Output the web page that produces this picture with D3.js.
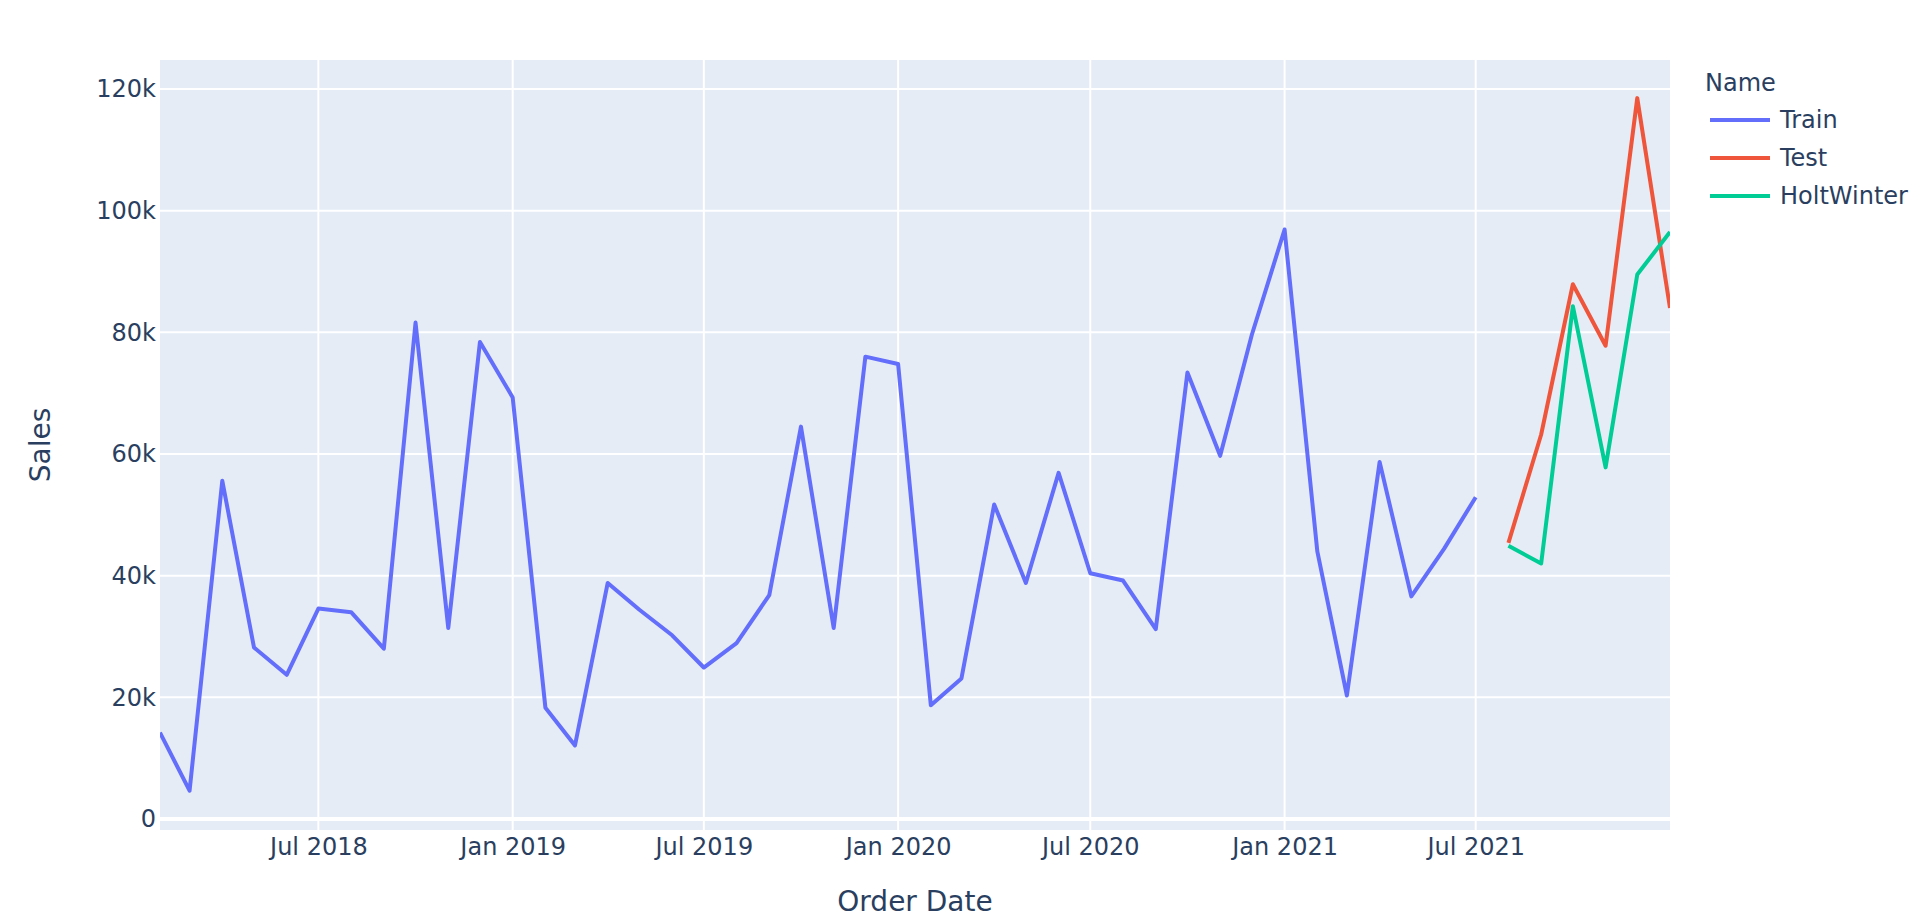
<!DOCTYPE html>
<html>
<head>
<meta charset="utf-8">
<script src="https://cdn.jsdelivr.net/npm/d3@7"></script>
<style>
  body { margin: 0; background: #fff; }
  text { font-family: "DejaVu Sans", Verdana, sans-serif; fill: #2a3f5f; }
</style>
</head>
<body>
<div id="chart"></div>
<script>
// monthly sales
const trainStart = [2018, 1]; // Feb 2018 (month index 1)
const trainSales = [14200, 4650, 55600, 28200, 23700, 34600, 34000, 28000, 81600, 31400, 78400, 69300,
  18300, 12100, 38800, 34400, 30200, 24900, 28900, 36800, 64500, 31400, 76000, 74800,
  18700, 23100, 51700, 38800, 56900, 40400, 39200, 31200, 73400, 59700, 79600, 96900,
  44000, 20300, 58700, 36600, 44400, 52900];
const testStart = [2021, 7]; // Aug 2021
const testSales = [45400, 63200, 87900, 77800, 118500, 84000];
const holtSales = [44900, 42000, 84300, 57800, 89500, 96500];

const seriesNames = ['Train', 'Test', 'HoltWinter'];
const seriesColors = ['#636efa', '#EF553B', '#00cc96'];
const yTicks = [0, 20000, 40000, 60000, 80000, 100000, 120000];

function monthly(start, vals) {
  return vals.map((v, i) => ({ date: new Date(Date.UTC(start[0], start[1] + i, 1)), value: v }));
}
const series = [
  monthly(trainStart, trainSales),
  monthly(testStart, testSales),
  monthly(testStart, holtSales)
];

const W = 1920, H = 924;
const pLeft = 160, pRight = 1670, pTop = 60, pBottom = 830;
const font = '"DejaVu Sans", Verdana, sans-serif';

const svg = d3.select('#chart').append('svg').attr('width', W).attr('height', H);

const x = d3.scaleUtc()
  .domain([new Date(Date.UTC(2018, 1, 1)), new Date(Date.UTC(2022, 0, 1))])
  .range([pLeft, pRight]);
const y = d3.scaleLinear().domain([-1808, 124767]).range([pBottom, pTop]);

svg.append('rect')
  .attr('x', pLeft).attr('y', pTop)
  .attr('width', pRight - pLeft).attr('height', pBottom - pTop)
  .attr('fill', '#E5ECF6');

svg.append('clipPath').attr('id', 'clip')
  .append('rect').attr('x', pLeft).attr('y', pTop).attr('width', pRight - pLeft).attr('height', pBottom - pTop);

const xTicks = d3.utcMonth.every(6).range(new Date(Date.UTC(2018, 6, 1)), new Date(Date.UTC(2022, 0, 1)));

// grid
svg.append('g').selectAll('line').data(xTicks).join('line')
  .attr('x1', d => x(d)).attr('x2', d => x(d))
  .attr('y1', pTop).attr('y2', pBottom)
  .attr('stroke', '#fff').attr('stroke-width', 2);
svg.append('g').selectAll('line').data(yTicks).join('line')
  .attr('x1', pLeft).attr('x2', pRight)
  .attr('y1', d => y(d)).attr('y2', d => y(d))
  .attr('stroke', '#fff').attr('stroke-width', d => d === 0 ? 4 : 2);

// axes
const xAxis = svg.append('g')
  .attr('transform', `translate(0,${pBottom})`)
  .call(d3.axisBottom(x).tickValues(xTicks).tickFormat(d3.utcFormat('%b %Y')).tickSize(0).tickPadding(8));
const yAxis = svg.append('g')
  .attr('transform', `translate(${pLeft},0)`)
  .call(d3.axisLeft(y).tickValues(yTicks).tickFormat(d => d === 0 ? '0' : (d / 1000) + 'k').tickSize(0).tickPadding(4));
[xAxis, yAxis].forEach(a => {
  a.select('.domain').remove();
  a.selectAll('text').style('font-size', '24px').attr('fill', '#2a3f5f')
    .style('font-family', font);
});

// lines
const line = d3.line().x(d => x(d.date)).y(d => y(d.value));
svg.append('g').attr('clip-path', 'url(#clip)')
  .selectAll('path').data(series).join('path')
  .attr('d', line)
  .attr('fill', 'none')
  .attr('stroke', (d, i) => seriesColors[i])
  .attr('stroke-width', 4)
  .attr('stroke-linejoin', 'round');

// axis titles
svg.append('text')
  .attr('x', (pLeft + pRight) / 2).attr('y', 911)
  .attr('text-anchor', 'middle')
  .style('font-size', '28px')
  .text('Order Date');
svg.append('text')
  .attr('transform', `translate(50,${(pTop + pBottom) / 2}) rotate(-90)`)
  .attr('text-anchor', 'middle')
  .style('font-size', '28px')
  .text('Sales');

// legend
const legend = svg.append('g');
legend.append('text').attr('x', 1705).attr('y', 91).style('font-size', '24px').text('Name');
const item = legend.selectAll('g.item').data(seriesNames).join('g')
  .attr('class', 'item')
  .attr('transform', (d, i) => `translate(0,${120 + i * 38})`);
item.append('line')
  .attr('x1', 1710).attr('x2', 1770)
  .attr('stroke', (d, i) => seriesColors[i]).attr('stroke-width', 4);
item.append('text')
  .attr('x', 1780).attr('dy', '0.35em')
  .style('font-size', '24px')
  .text(d => d);
</script>
</body>
</html>
